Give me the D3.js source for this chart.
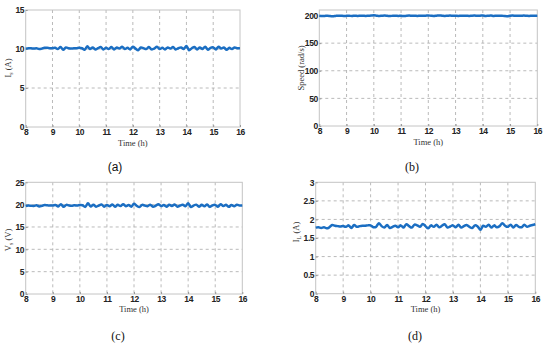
<!DOCTYPE html>
<html>
<head>
<meta charset="utf-8">
<script src="https://cdnjs.cloudflare.com/ajax/libs/d3/7.8.5/d3.min.js"></script>
<style>
  body { margin: 0; background: #fff; }
  .tick text { font-family: "Liberation Sans", Arial, sans-serif; font-weight: bold; font-size: 8.5px; letter-spacing: -0.4px; fill: #222; }
  .axlab { font-family: "Liberation Serif", "Times New Roman", serif; font-size: 8.5px; fill: #333; }
</style>
</head>
<body>
<svg id="chart" width="550" height="346"></svg>
<script>
// time axis, one sample every 0.1 h
var hours = d3.range(81).map(function(i) { return +(8 + i * 0.1).toFixed(1); });
var timeTicks = [8, 9, 10, 11, 12, 13, 14, 15, 16];

// (a) current I_s (A)
var currentS = [
  10.05, 10.1, 10.1, 10.05, 10.1, 10.0, 10.05, 10.15, 10.15, 10.1,
  10.1, 10.15, 10.0, 10.25, 9.9, 10.2, 10.1, 10.05, 10.1, 10.1,
  10.15, 10.1, 9.9, 10.35, 10.0, 10.2, 9.95, 10.1, 10.25, 9.95,
  10.15, 10.0, 10.25, 9.95, 10.2, 10.05, 10.3, 10.0, 10.15, 9.95,
  10.3, 10.05, 9.85, 10.2, 10.1, 10.0, 10.25, 9.95, 10.05, 10.3,
  10.0, 10.15, 9.95, 10.2, 10.05, 10.25, 9.95, 10.1, 10.2, 10.0,
  10.4, 9.85, 10.1, 10.25, 9.95, 10.2, 10.0, 10.3, 9.9, 10.15,
  10.2, 9.95, 10.3, 10.05, 10.2, 9.9, 10.15, 10.0, 10.2, 10.1,
  10.1
];

// (b) speed (rad/s)
var speed = [
  199.5, 199.0, 199.2, 199.6, 199.1, 198.6, 199.3, 199.8, 199.5, 199.2,
  199.4, 199.6, 199.1, 199.8, 199.3, 199.5, 199.7, 199.2, 199.6, 199.9,
  200.3, 199.8, 199.2, 199.6, 199.9, 199.4, 199.1, 199.6, 199.8, 199.3,
  199.5, 199.0, 199.6, 199.9, 199.4, 199.7, 199.3, 199.8, 199.5, 199.6,
  200.1, 199.6, 199.2, 199.7, 200.2, 199.8, 199.3, 199.6, 199.9, 199.4,
  199.7, 199.3, 199.8, 199.5, 199.6, 199.2, 199.7, 199.9, 199.4, 199.6,
  200.2, 199.3, 199.6, 199.9, 199.2, 199.7, 199.5, 199.8, 199.0, 198.7,
  199.6, 199.9, 199.4, 199.8, 199.5, 199.9, 199.6, 199.3, 199.7, 199.5,
  199.6
];

// (c) voltage V_s (V)
var voltageS = [
  19.7, 19.8, 19.75, 19.7, 19.85, 19.6, 19.75, 19.9, 19.85, 19.8,
  19.8, 19.9, 19.6, 20.1, 19.5, 19.95, 19.8, 19.75, 19.85, 19.8,
  19.9, 19.85, 19.5, 20.3, 19.6, 20.0, 19.55, 19.8, 20.05, 19.55,
  19.9, 19.65, 20.05, 19.55, 19.95, 19.7, 20.1, 19.65, 19.9, 19.55,
  20.2, 19.75, 19.45, 19.95, 19.8, 19.65, 20.0, 19.55, 19.75, 20.1,
  19.7, 19.9, 19.55, 19.95, 19.7, 20.05, 19.55, 19.8, 19.95, 19.65,
  20.3, 19.45, 19.8, 20.0, 19.55, 19.95, 19.65, 20.05, 19.5, 19.85,
  19.95, 19.55, 20.1, 19.7, 19.95, 19.5, 19.9, 19.65, 19.95, 19.8,
  19.8
];

// (d) load current I_L (A)
var currentL = [
  1.78, 1.79, 1.77, 1.79, 1.76, 1.79, 1.85, 1.83, 1.82, 1.81,
  1.82, 1.80, 1.84, 1.77, 1.85, 1.80, 1.82, 1.83, 1.83, 1.84,
  1.84, 1.79, 1.80, 1.90, 1.82, 1.78, 1.85, 1.77, 1.80, 1.83,
  1.79, 1.84, 1.78, 1.87, 1.82, 1.78, 1.86, 1.84, 1.80, 1.88,
  1.82, 1.76, 1.84, 1.80, 1.86, 1.79, 1.83, 1.87, 1.78, 1.81,
  1.84, 1.79, 1.86, 1.78, 1.82, 1.85, 1.80, 1.77, 1.84, 1.81,
  1.72, 1.83, 1.80, 1.86, 1.78, 1.84, 1.79, 1.82, 1.90, 1.83,
  1.80, 1.86, 1.78, 1.85, 1.80, 1.79, 1.86, 1.80, 1.83, 1.85,
  1.87
];

var panels = [
  { values: currentS, yMax: 15, yTicks: [0, 5, 10, 15], fmt: d3.format("d"),
    box: [25.7, 10, 240, 127], ylab: ["I", "s", " (A)"], ylabPos: [8, 68],
    tag: "(a)", tagPos: [115, 171], tagFont: "Liberation Sans", xlabDy: 19 },
  { values: speed, yMax: 210, yTicks: [0, 50, 100, 150, 200], fmt: d3.format("d"),
    box: [319.3, 10, 537.3, 126], ylab: ["Speed (rad/s)", "", ""], ylabPos: [301, 68],
    tag: "(b)", tagPos: [412, 171], tagFont: "Liberation Serif", xlabDy: 19 },
  { values: voltageS, yMax: 25, yTicks: [0, 5, 10, 15, 20, 25], fmt: d3.format("d"),
    box: [25.7, 182.3, 242.3, 294], ylab: ["V", "s", " (V)"], ylabPos: [8, 240],
    tag: "(c)", tagPos: [118, 340], tagFont: "Liberation Serif", xlabDy: 18 },
  { values: currentL, yMax: 3, yTicks: [0, 0.5, 1, 1.5, 2, 2.5, 3], fmt: d3.format("~g"),
    box: [315.7, 182.3, 535.3, 293.7], ylab: ["I", "L", " (A)"], ylabPos: [296, 232],
    tag: "(d)", tagPos: [415, 340], tagFont: "Liberation Serif", xlabDy: 18 }
];

var svg = d3.select("#chart");

panels.forEach(function(p) {
  var x0 = p.box[0], y0 = p.box[1], x1 = p.box[2], y1 = p.box[3];
  var x = d3.scaleLinear().domain([8, 16]).range([x0, x1]);
  var y = d3.scaleLinear().domain([0, p.yMax]).range([y1, y0]);
  var g = svg.append("g");

  // dashed grid
  g.selectAll("line.gx").data(timeTicks.slice(1, -1)).enter().append("line")
    .attr("x1", function(d) { return x(d); }).attr("x2", function(d) { return x(d); })
    .attr("y1", y0).attr("y2", y1)
    .attr("stroke", "#a8a8a8").attr("stroke-width", 0.8).attr("stroke-dasharray", "3,3");
  g.selectAll("line.gy").data(p.yTicks.filter(function(d) { return d > 0 && d < p.yMax; })).enter().append("line")
    .attr("y1", function(d) { return y(d); }).attr("y2", function(d) { return y(d); })
    .attr("x1", x0).attr("x2", x1)
    .attr("stroke", "#a8a8a8").attr("stroke-width", 0.8).attr("stroke-dasharray", "3,3");

  // box
  g.append("rect").attr("x", x0).attr("y", y0).attr("width", x1 - x0).attr("height", y1 - y0)
    .attr("fill", "none").attr("stroke", "#c4c4c4").attr("stroke-width", 1);

  // axes (inward ticks)
  var xa = g.append("g").attr("transform", "translate(0," + y1 + ")")
    .call(d3.axisBottom(x).tickValues(timeTicks).tickFormat(d3.format("d")).tickSize(-2).tickPadding(2));
  var ya = g.append("g").attr("transform", "translate(" + x0 + ",0)")
    .call(d3.axisLeft(y).tickValues(p.yTicks).tickFormat(p.fmt).tickSize(-2).tickPadding(1.5));
  [xa, ya].forEach(function(a) {
    a.select(".domain").remove();
    a.selectAll(".tick line").attr("stroke", "#999");
  });

  // line
  var line = d3.line()
    .x(function(d, i) { return x(hours[i]); })
    .y(function(d) { return y(d); })
    .curve(d3.curveCatmullRom);
  g.append("path").datum(p.values).attr("d", line)
    .attr("fill", "none").attr("stroke", "#1b6ec2").attr("stroke-width", 2.5)
    .attr("stroke-linejoin", "round");

  // axis labels
  g.append("text").attr("class", "axlab")
    .attr("x", (x0 + x1) / 2).attr("y", y1 + p.xlabDy)
    .attr("text-anchor", "middle").text("Time (h)");
  var yl = g.append("text").attr("class", "axlab")
    .attr("transform", "translate(" + p.ylabPos[0] + "," + p.ylabPos[1] + ") rotate(-90)")
    .attr("text-anchor", "middle").attr("dy", "0.35em");
  yl.append("tspan").text(p.ylab[0]);
  if (p.ylab[1]) {
    yl.append("tspan").attr("dy", "2").attr("font-size", "6px").text(p.ylab[1]);
    yl.append("tspan").attr("dy", "-2").text(p.ylab[2]);
  }

  // panel tag
  g.append("text").attr("x", p.tagPos[0]).attr("y", p.tagPos[1])
    .attr("text-anchor", "middle")
    .attr("font-family", p.tagFont).attr("font-size", "12px").attr("fill", "#111")
    .text(p.tag);
});
</script>
</body>
</html>
